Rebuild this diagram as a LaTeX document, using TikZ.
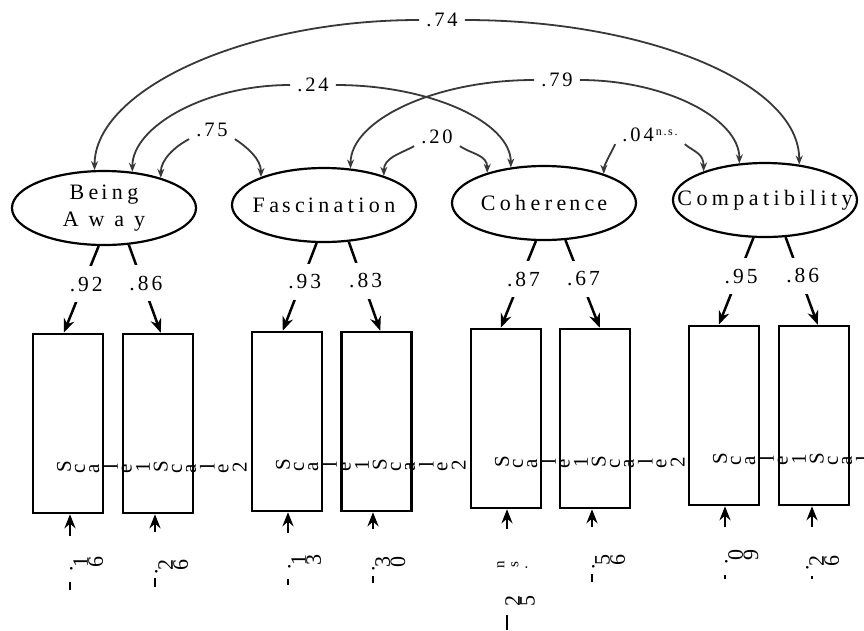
\documentclass[tikz,border=0pt]{standalone}
\usepackage{graphicx}
\usepackage{fontspec}
\setmainfont{Liberation Serif}
\newfontfamily\spacedfont[LetterSpace=20]{Liberation Serif}
\newfontfamily\lspacedfont[LetterSpace=14]{Liberation Serif}
\usetikzlibrary{arrows.meta,shapes.geometric}
\newcommand\rg[1]{\rotatebox[origin=c]{90}{#1}\hspace{4pt}}
\newcommand\rgt[1]{\rotatebox[origin=c]{90}{#1}\hspace{0.5pt}}
\newcommand\rgw[1]{\rotatebox[origin=c]{90}{#1}\hspace{7pt}}
\newcommand\zb[1]{\makebox[0pt]{#1}}
\definecolor{arcgray}{HTML}{383838}
\tikzset{
  lat/.style={ellipse, draw=black, line width=2.2pt, minimum width=184pt, minimum height=74pt, inner sep=0pt, align=center, font=\spacedfont\fontsize{22}{27}\selectfont},
  obs/.style={rectangle, draw=black, line width=2.5pt, minimum width=70pt, minimum height=179pt, inner sep=0pt},
  load/.style={draw=black, line width=2.5pt, -{Stealth[length=14pt,width=11pt]}},
  ld/.style={pos=0.44, fill=white, xshift=3pt, inner xsep=1pt, minimum height=36pt, font=\lspacedfont\fontsize{21.5}{21.5}\selectfont},
  corr/.style={draw=arcgray, line width=1.8pt, -{Stealth[length=9pt,width=7pt]}},
  cl/.style={inner xsep=7pt, inner ysep=2pt, font=\lspacedfont\fontsize{20.5}{20.5}\selectfont},
  rot/.style={inner sep=0pt, anchor=west, font=\fontsize{21}{21}\selectfont},
  rotb/.style={inner sep=0pt, anchor=west, font=\fontsize{22}{22}\selectfont},
  tick/.style={draw=black, line width=2.5pt}
}
\begin{document}
\begin{tikzpicture}[x=1pt,y=-1pt]
\useasboundingbox[fill=white] (0,0) rectangle (864,630);

% latent variables
\node[lat] (ba) at (104,208) {\zb{Be\kern3pt ing}\\\zb{A w a y}};
\node[lat] (fa) at (324,205) {\zb{Fa\kern3pt sc\kern3pt ination}};
\node[lat] (co) at (544,203) {\zb{Cohere\kern3pt nc\kern3pt e}};
\node[lat] (cp) at (765,200) {\zb{Compatibility}};

% observed variables
\node[obs] (b1) at (68,423.5) {};
\node[obs] (b2) at (158,423.5) {};
\node[obs] (b3) at (287,421.5) {};
\node[obs] (b4) at (376.5,421.5) {};
\node[obs] (b5) at (506,418.5) {};
\node[obs] (b6) at (595,418.5) {};
\node[obs] (b7) at (724,415.5) {};
\node[obs] (b8) at (814,415.5) {};

% rotated scale labels
\node[rot] (s1) at ([xshift=25pt,yshift=-44pt]b1.west) {\rg{S}\rg{c}\rg{a}\rg{l}\rg{e}\rg{1}\rg{S}\rg{c}\rg{a}\rg{l}\rg{e}\rg{2}};
\node[rot] (s2) at ([xshift=25pt,yshift=-44pt]b3.west) {\rg{S}\rg{c}\rg{a}\rg{l}\rg{e}\rg{1}\rg{S}\rg{c}\rg{a}\rg{l}\rg{e}\rg{2}};
\node[rot] (s3) at ([xshift=25pt,yshift=-44pt]b5.west) {\rg{S}\rg{c}\rg{a}\rg{l}\rg{e}\rg{1}\rg{S}\rg{c}\rg{a}\rg{l}\rg{e}\rg{2}};
\node[rot] (s4) at ([xshift=25pt,yshift=-44pt]b7.west) {\rg{S}\rg{c}\rg{a}\rg{l}\rg{e}\rg{1}\rg{S}\rg{c}\rg{a}\rg{l}\rg{e}\rg{2}};

% loadings
\draw[load] (ba.262) -- node[ld]{.92} ([xshift=32pt]b1.north west);
\draw[load] (ba.304) -- node[ld]{.86} ([xshift=39pt]b2.north west);
\draw[load] (fa.259) -- node[ld]{.93} ([xshift=32pt]b3.north west);
\draw[load] (fa.304) -- node[ld]{.83} ([xshift=40pt]b4.north west);
\draw[load] (co.258) -- node[ld]{.87} ([xshift=31pt]b5.north west);
\draw[load] (co.300) -- node[ld]{.67} ([xshift=41pt]b6.north west);
\draw[load] (cp.253) -- node[ld]{.95} ([xshift=31pt]b7.north west);
\draw[load] (cp.299) -- node[ld]{.86} ([xshift=40pt]b8.north west);

% error arrows
\coordinate (e1) at (70,536);
\coordinate (e2) at (155,532);
\coordinate (e3) at (288,533);
\coordinate (e4) at (373,529);
\coordinate (e5) at (507,529);
\coordinate (e6) at (592,527);
\coordinate (e7) at (725,527);
\coordinate (e8) at (812,527);
\draw[load] (e1) -- (e1 |- b1.south);
\draw[load] (e2) -- (e2 |- b2.south);
\draw[load] (e3) -- (e3 |- b3.south);
\draw[load] (e4) -- (e4 |- b4.south);
\draw[load] (e5) -- (e5 |- b5.south);
\draw[load] (e6) -- (e6 |- b6.south);
\draw[load] (e7) -- (e7 |- b7.south);
\draw[load] (e8) -- (e8 |- b8.south);

% error labels (rotated glyphs) and ticks
\node[rotb] (r1) at (70,564) {\rgt{.}\rgt{1}\rgt{6}};
\node[rotb] (r2) at (155,567) {\rgt{.}\rgt{2}\rgt{6}};
\node[rotb] (r3) at (288,562) {\rgt{.}\rgt{1}\rgt{3}};
\node[rotb] (r4) at (372,564) {\rgt{.}\rgt{3}\rgt{0}};
\node[rot, font=\fontsize{15}{15}\selectfont] (r5) at (497,565) {\rgw{n}\rgw{s}\rgw{.}};
\node[rotb] (r5b) at (505,602) {\rgt{2}\rgt{5}};
\node[rotb] (r6) at (592,562) {\rgt{.}\rgt{5}\rgt{6}};
\node[rotb] (r7) at (725,557) {\rgt{.}\rgt{0}\rgt{9}};
\node[rotb] (r8) at (806,563) {\rgt{.}\rgt{2}\rgt{6}};
\draw[tick] (70,582) -- (70,590);
\draw[tick] (155,578) -- (155,587);
\draw[tick] (288,579) -- (288,585);
\draw[tick] (373,576) -- (373,583);
\draw[tick] (507,615) -- (507,630);
\draw[tick] (592,574) -- (592,582);
\draw[tick] (725,575) -- (725,579);
\draw[tick] (812,576) -- (812,579);

% correlation labels
\node[cl] (l74) at (442,20) {.74};
\node[cl] (l24) at (313,85) {.24};
\node[cl] (l79) at (557,80) {.79};
\node[cl] (l75) at (212,130) {.75};
\node[cl] (l20) at (437,137) {.20};
\node[cl] (l04) at (650,135) {.04\raisebox{6pt}{\fontsize{12}{12}\selectfont\,n.s.}};

% correlation arcs
\draw[corr] (l74.west) .. controls +(-175,0) and +(0,-80) .. (ba.104);
\draw[corr] (l74.east) .. controls +(180,0) and +(0,-82) .. (cp.46);
\draw[corr] (l24.west) .. controls +(-85,0) and +(0,-45) .. (ba.52);
\draw[corr] (l24.east) .. controls +(95,0) and +(0,-45) .. (co.133);
\draw[corr] (l79.west) .. controls +(-100,0) and +(0,-48) .. (fa.54);
\draw[corr] (l79.east) .. controls +(85,0) and +(0,-45) .. (cp.125);
\draw[corr] (l75.south west) .. controls +(-15,8) and +(0,-18) .. (ba.28);
\draw[corr] (l75.south east) .. controls +(12,8) and +(0,-18) .. (fa.156);
\draw[corr] (l20.south west) .. controls +(-15,8) and +(0,-18) .. (fa.26);
\draw[corr] (l20.south east) .. controls +(12,8) and +(0,-18) .. (co.152);
\draw[corr] (l04.south west) .. controls +(-4,8) and +(0,-8) .. (co.26);
\draw[corr] (l04.south east) .. controls +(10,8) and +(0,-18) .. (cp.155);
\end{tikzpicture}
\end{document}
